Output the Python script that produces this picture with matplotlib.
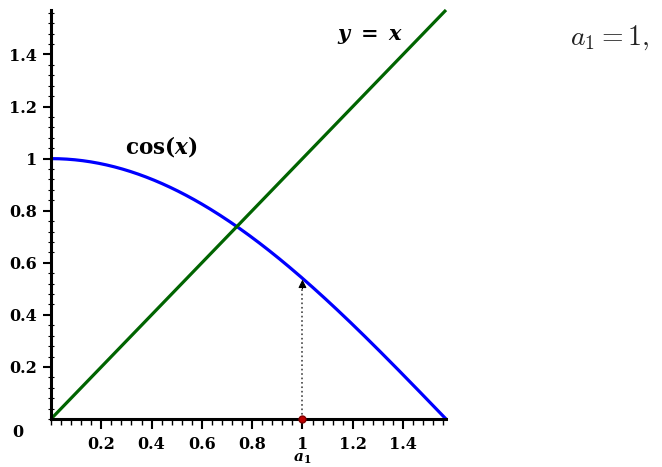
import numpy as np
import matplotlib.pyplot as plt
from matplotlib.ticker import MultipleLocator, FixedLocator, FixedFormatter

# curves on [0, pi/2]
x_max = np.pi / 2
xs = np.linspace(0, x_max, 200)
cos_vals = np.cos(xs)
line_vals = xs

# first iterate
a1 = 1.0

tick_pos = [0.2, 0.4, 0.6, 0.8, 1.0, 1.2, 1.4]
tick_lbl = ['0.2', '0.4', '0.6', '0.8', '1', '1.2', '1.4']

plt.rcParams['mathtext.fontset'] = 'cm'

fig = plt.figure(figsize=(6.62, 4.67), dpi=100)
ax = fig.add_axes([51/662, 48/467, 395/662, 409/467])

ax.plot(xs, cos_vals, color='#0000ff', lw=2.3, solid_capstyle='butt', clip_on=False, zorder=3)
ax.plot(xs, line_vals, color='#006400', lw=2.3, solid_capstyle='butt', clip_on=False, zorder=3)

# dotted arrow from a1 up to cos(a1)
ax.plot([a1, a1], [0, np.cos(a1) - 0.03], ':', color='#444444', lw=1.2, zorder=2)
ax.annotate('', xy=(a1, np.cos(a1) - 0.005), xytext=(a1, np.cos(a1) - 0.04),
            arrowprops=dict(arrowstyle='-|>', color='k', lw=0.8, mutation_scale=12,
                            shrinkA=0, shrinkB=0))
ax.plot([a1], [0], 'o', color='#c00000', markeredgecolor='#800000', ms=5, clip_on=False, zorder=5)

ax.set_xlim(0, x_max)
ax.set_ylim(0, x_max)
for s in ['top', 'right']:
    ax.spines[s].set_visible(False)
for s in ['left', 'bottom']:
    ax.spines[s].set_linewidth(2.2)
    ax.spines[s].set_zorder(4)

tick_font = {'family': 'DejaVu Serif', 'weight': 'bold', 'size': 11.5}
ax.xaxis.set_major_locator(FixedLocator(tick_pos))
ax.xaxis.set_major_formatter(FixedFormatter(tick_lbl))
ax.yaxis.set_major_locator(FixedLocator(tick_pos))
ax.yaxis.set_major_formatter(FixedFormatter(tick_lbl))
ax.xaxis.set_minor_locator(MultipleLocator(0.04))
ax.yaxis.set_minor_locator(MultipleLocator(0.04))
ax.tick_params(axis='x', which='major', direction='out', length=7, width=1.5, pad=5)
ax.tick_params(axis='x', which='minor', direction='out', length=4, width=1)
ax.tick_params(axis='y', which='major', direction='out', length=6, width=1.5, pad=4)
ax.tick_params(axis='y', which='minor', direction='inout', length=4, width=0.8)
for lab in ax.get_xticklabels() + ax.get_yticklabels():
    lab.set_fontproperties(tick_font)

ax.text(-0.13, -0.05, '0', fontdict=tick_font, ha='center', va='center', clip_on=False)
ax.text(a1, -0.124, r'$\mathbfit{a}_\mathbf{1}$', fontsize=11, ha='center', va='top',
        clip_on=False, math_fontfamily='dejavuserif')

ax.text(0.44, 1.046, r'$\mathbf{cos(}\mathbfit{x}\mathbf{)}$', fontsize=15.5,
        ha='center', va='center', math_fontfamily='dejavuserif')
ax.text(1.27, 1.47, r'$\mathbfit{y}\ \mathbf{=}\ \mathbfit{x}$', fontsize=15,
        ha='center', va='center', math_fontfamily='dejavuserif')
ax.text(2.22, 1.465, r'$a_1 = 1,$', fontsize=20, color='#222222',
        ha='center', va='center', clip_on=False)

fig.savefig('out.png', dpi=100)
